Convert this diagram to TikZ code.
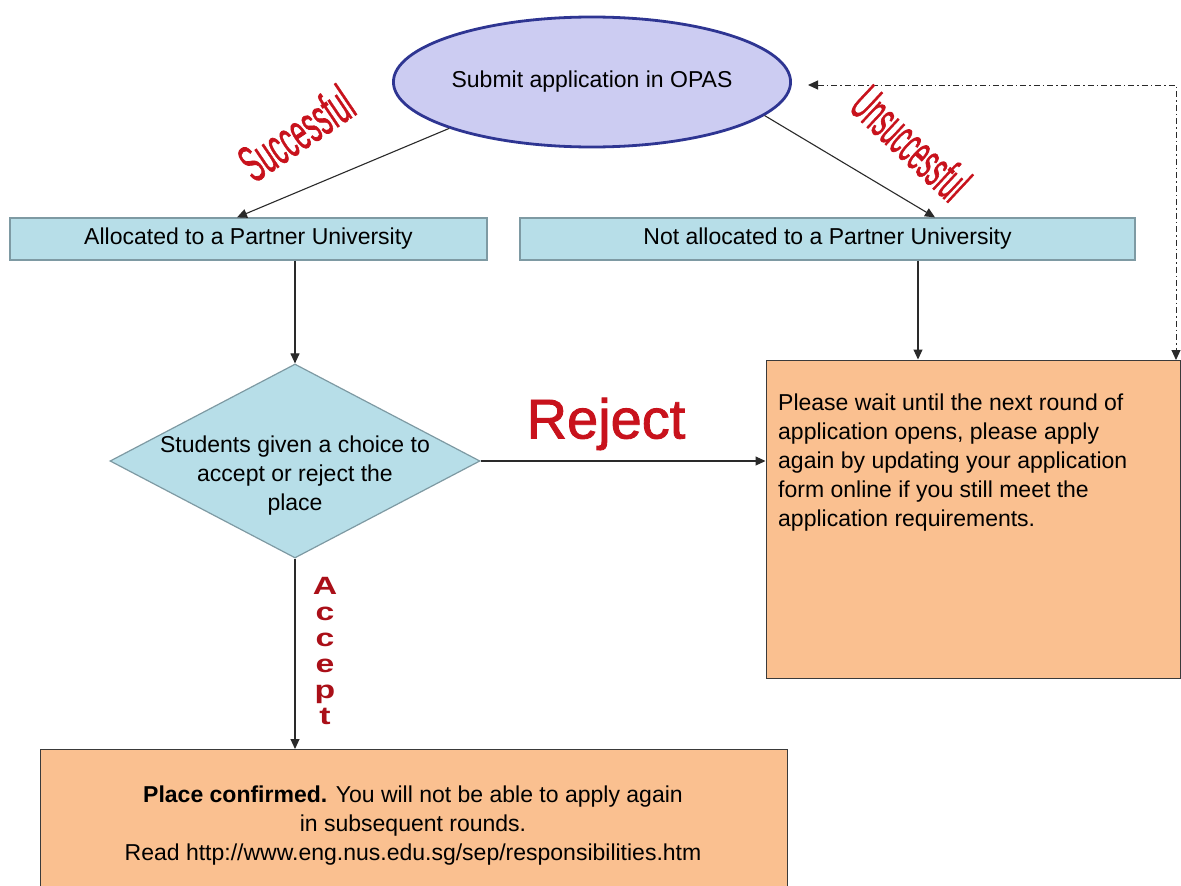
\documentclass[tikz,border=0pt]{standalone}
\usepackage{fontspec}
\setmainfont{Liberation Sans}
\newfontface\wafont{Liberation Sans}[RawFeature={embolden=1.5}]
\usetikzlibrary{shapes.geometric,arrows.meta}
\definecolor{tealfill}{HTML}{B7DEE8}
\definecolor{tealedge}{HTML}{7E9AA3}
\definecolor{orangefill}{HTML}{FAC090}
\definecolor{orangeedge}{HTML}{3A3A3A}
\definecolor{ellfill}{HTML}{CCCCF2}
\definecolor{elledge}{HTML}{2E3592}
\definecolor{wordred}{HTML}{C8121C}
\definecolor{linegray}{HTML}{2A2A2A}
\begin{document}
\begin{tikzpicture}[x=1pt,y=-1pt,
  body/.style={font=\fontsize{23}{29}\selectfont},
  tealbox/.style={draw=tealedge, fill=tealfill, line width=1.2pt, inner sep=0pt, body},
  orangebox/.style={draw=orangeedge, fill=orangefill, line width=1pt, inner sep=0pt},
  conn/.style={draw=linegray, line width=1.1pt, -{Triangle[length=10pt,width=9pt]}},
  wordart/.style={text=wordred, inner sep=0pt, font=\wafont\fontsize{52}{52}\selectfont}
]
\useasboundingbox[fill=white] (0,0) rectangle (1181,886);

% nodes
\node[ellipse, draw=elledge, fill=ellfill, line width=2.8pt, minimum width=390pt, minimum height=130pt, inner sep=0pt, body] (sub) at (592,82) {Submit application in OPAS};
\node[tealbox, minimum width=477pt, minimum height=42pt] (alloc) at (248.5,239) {Allocated to a Partner University};
\node[tealbox, minimum width=615pt, minimum height=42pt] (notalloc) at (827.5,239) {Not allocated to a Partner University};
\node[diamond, draw=tealedge, fill=tealfill, line width=1.2pt, minimum width=370pt, minimum height=194pt, inner sep=0pt] (choice) at (295,461) {};
\node[body, align=center, inner sep=0pt] (choicetext) at (295,476) {Students given a choice to\\accept or reject the\\place};
\node[orangebox, minimum width=414pt, minimum height=318pt] (wait) at (973,519) {};
\node[body, align=left, anchor=north west, inner sep=0pt] (waittext) at (778,394) {Please wait until the next round of\\application opens, please apply\\again by updating your application\\form online if you still meet the\\application requirements.};
\node[orangebox, minimum width=747pt, minimum height=145pt] (confirm) at (413.5,822) {};
\node[body, align=center, inner sep=0pt] (confirmtext) at (413,826) {\textbf{Place confirmed.} You will not be able to apply again\\in subsequent rounds.\\Read http://www.eng.nus.edu.sg/sep/responsibilities.htm};

% connectors
\draw[conn] (sub.198) -- ([xshift=-11.5pt]alloc.north);
\draw[conn] (sub.349) -- ([xshift=107.5pt]notalloc.north);
\draw[conn] (alloc.south -| choice.north) -- (choice.north);
\draw[conn] ([xshift=90.5pt]notalloc.south) -- ([xshift=90.5pt]notalloc.south |- wait.north);
\draw[conn] (choice.east) -- (wait.west |- choice.east);
\draw[conn] (choice.south) -- (choice.south |- confirm.north);
\coordinate (retstart) at (1176,360);
\coordinate (retend) at (808,85);
\draw[draw=linegray, line width=1pt, dash pattern=on 6pt off 3pt on 1.5pt off 3pt,
  {Triangle[length=10pt,width=9pt]}-{Triangle[length=10pt,width=9pt]}] (retend) -| (retstart);

% labels
\node[wordart, rotate=34] (succ) at (296,133) {\scalebox{0.5}[1]{Successful}};
\node[wordart, rotate=-43] (unsucc) at (911,143) {\scalebox{0.45}[1]{Unsuccessful}};
\node[text=wordred, inner sep=0pt, font=\wafont\fontsize{56}{56}\selectfont] (rej) at (606,424) {Reject};
\node[text=wordred!85!black, inner sep=0pt, align=center, font=\bfseries\fontsize{25}{26}\selectfont] (acc) at (325,651) {\scalebox{1.35}[1]{A}\\\scalebox{1.35}[1]{c}\\\scalebox{1.35}[1]{c}\\\scalebox{1.35}[1]{e}\\\scalebox{1.35}[1]{p}\\\scalebox{1.35}[1]{t}};
\end{tikzpicture}
\end{document}
